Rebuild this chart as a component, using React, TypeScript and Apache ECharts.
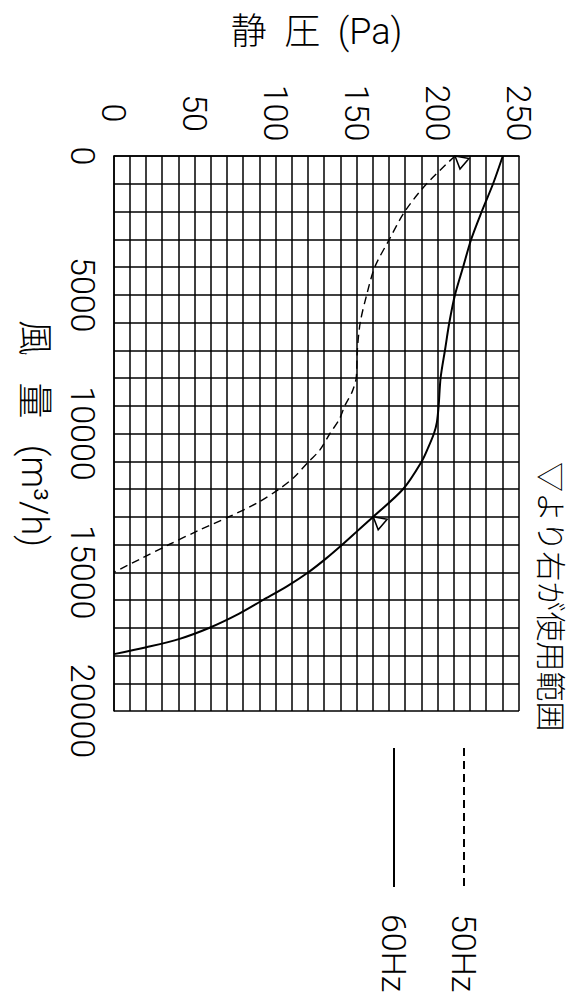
import React, { useEffect, useRef } from 'react';
import * as echarts from 'echarts';

// ---- data ----
const flowTicks = [0, 5000, 10000, 15000, 20000];
const pressureTicks = [0, 50, 100, 150, 200, 250];

const seriesNames = ['50Hz', '60Hz'];

const flow50 = [0, 1000, 2000, 3000, 4000, 5000, 6000, 7000, 8000, 8500, 9000, 9500, 10000, 10600, 11000, 11600, 12000, 12500, 13000, 13500, 14000, 14500, 15000];
const pres50 = [210.5, 193, 179.5, 170, 161, 156, 152, 150.2, 149.5, 147, 142.5, 139, 133.3, 127, 120.4, 110.7, 102, 88.5, 71, 52, 34, 17, 0];

const flow60 = [0, 1000, 2000, 3000, 4000, 5000, 6000, 7000, 8000, 9000, 9600, 10000, 10500, 11000, 12000, 13000, 13500, 14000, 14500, 15000, 15500, 16000, 16500, 17000, 17400, 17700, 17950];
const pres60 = [240, 234, 227, 220.5, 215.5, 210.5, 207, 204.3, 201.6, 200.4, 199.3, 197.5, 194, 190, 178.5, 160, 150.5, 141, 131, 120, 107, 92, 77, 59, 40.5, 20, 0];

const marker50 = [0, 210.5];
const marker60 = [13000, 160];

const xName = '風   量   (m³/h)';
const yName = '静  圧  (Pa)';
const note = '▽より右が使用範囲';

const FONT = "Roboto, 'Noto Sans CJK JP', sans-serif";
const WEIGHT = 300;
const GRIDLINE = { color: '#000', width: 1.5 };
const TRI = 'path://M0 14 L2.5 0 L13 9 Z';

function markerOf(coord: number[]) {
  return {
    silent: true,
    symbol: TRI,
    symbolSize: [13, 14],
    symbolOffset: [6.5, -7],
    symbolKeepAspect: false,
    itemStyle: { color: '#fff', borderColor: '#000', borderWidth: 1.5 },
    label: { show: false },
    data: [{ coord }],
  };
}

function Chart() {
  const ref = useRef<HTMLDivElement | null>(null);
  useEffect(() => {
    if (!ref.current) return;
    const chart = echarts.init(ref.current, undefined, { renderer: 'svg' });
    const d50 = flow50.map((q, i) => [q, pres50[i]]);
    const d60 = flow60.map((q, i) => [q, pres60[i]]);
    chart.setOption({
      animation: false,
      backgroundColor: '#fff',
      color: ['#000', '#000'],
      textStyle: { fontFamily: FONT, fontWeight: WEIGHT, color: '#000' },
      grid: { left: 156, top: 54, width: 555, height: 405, outerBoundsMode: 'none', containLabel: false },
      legend: {
        data: seriesNames,
        orient: 'vertical',
        left: 742,
        top: 87,
        itemWidth: 139,
        itemHeight: 34,
        itemGap: 36,
        selectedMode: false,
        itemStyle: { opacity: 0 },
        textStyle: { fontSize: 34, fontFamily: FONT, fontWeight: WEIGHT, color: '#000', padding: [0, 0, 0, 22] },
      },
      xAxis: {
        type: 'value',
        min: flowTicks[0],
        max: flowTicks[flowTicks.length - 1],
        interval: flowTicks[1] - flowTicks[0],
        name: xName,
        nameLocation: 'middle',
        nameGap: 62,
        nameTextStyle: { fontSize: 36, fontFamily: FONT, fontWeight: WEIGHT, color: '#000' },
        axisLine: { show: true, lineStyle: GRIDLINE },
        axisTick: { show: false },
        minorTick: { show: false, splitNumber: 5 },
        splitLine: { show: true, lineStyle: GRIDLINE },
        minorSplitLine: { show: true, lineStyle: GRIDLINE },
        axisLabel: {
          margin: 14,
          fontSize: 34,
          fontFamily: FONT,
          fontWeight: WEIGHT,
          color: '#000',
          formatter: (v: number) => String(v),
        },
      },
      yAxis: {
        type: 'value',
        min: pressureTicks[0],
        max: pressureTicks[pressureTicks.length - 1],
        interval: pressureTicks[1] - pressureTicks[0],
        name: yName,
        nameLocation: 'middle',
        nameRotate: 90,
        nameGap: 106,
        nameTextStyle: { fontSize: 36, fontFamily: FONT, fontWeight: WEIGHT, color: '#000' },
        axisLine: { show: true, lineStyle: GRIDLINE },
        axisTick: { show: false },
        minorTick: { show: false, splitNumber: 5 },
        splitLine: { show: true, lineStyle: GRIDLINE },
        minorSplitLine: { show: true, lineStyle: GRIDLINE },
        axisLabel: {
          margin: 43,
          align: 'center',
          fontSize: 34,
          fontFamily: FONT,
          fontWeight: WEIGHT,
          color: '#000',
          formatter: (v: number) => String(v),
        },
      },
      graphic: [
        {
          type: 'text',
          x: 462,
          y: 23,
          silent: true,
          style: {
            text: note,
            fontSize: 30,
            fontFamily: FONT,
            fontWeight: WEIGHT,
            fill: '#000',
            verticalAlign: 'middle',
            align: 'left',
          },
        },
      ],
      series: [
        {
          name: seriesNames[0],
          type: 'line',
          data: d50,
          symbol: 'none',
          smooth: 0.3,
          lineStyle: { color: '#000', width: 1.4, type: [8, 5] },
          markPoint: markerOf(marker50),
          z: 5,
        },
        {
          name: seriesNames[1],
          type: 'line',
          data: d60,
          symbol: 'none',
          smooth: 0.3,
          lineStyle: { color: '#000', width: 2 },
          markPoint: markerOf(marker60),
          z: 5,
        },
      ],
    });
    return () => chart.dispose();
  }, []);
  return (
    <div
      ref={ref}
      style={{
        position: 'absolute',
        left: 0,
        top: 0,
        width: 1000,
        height: 573,
        transformOrigin: '0 0',
        transform: 'translate(573px, 0px) rotate(90deg)',
      }}
    />
  );
}

export default function App() {
  return (
    <div
      style={{
        position: 'fixed',
        left: 0,
        top: 0,
        width: 573,
        height: 1000,
        overflow: 'hidden',
        background: '#fff',
      }}
    >
      <Chart />
    </div>
  );
}
